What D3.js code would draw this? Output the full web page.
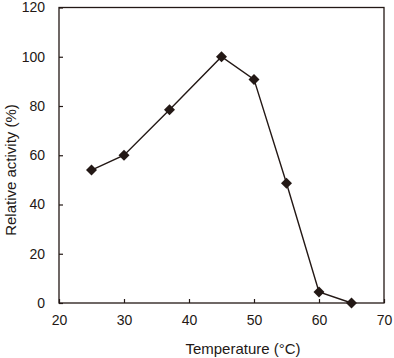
<!DOCTYPE html>
<html><head><meta charset="utf-8">
<script src="https://cdn.jsdelivr.net/npm/d3@7"></script>
<style>body{margin:0;background:#fff}svg{display:block}text{font-family:"Liberation Sans",Arial,sans-serif;fill:#231815}</style>
</head><body><svg id="c" width="394" height="358"></svg>
<script>
const temperatures = [25, 30, 37, 45, 50, 55, 60, 65];
const activity = [54, 60, 78.5, 100, 90.8, 48.6, 4.5, 0];
const xTicks = [20, 30, 40, 50, 60, 70];
const yTicks = [0, 20, 40, 60, 80, 100, 120];
const xTitle = "Temperature (\u00B0C)";
const yTitle = "Relative activity (%)";

const svg = d3.select("#c");
const L = 59, R = 384, T = 7.5, B = 303;
const col = "#231815";
const x = d3.scaleLinear().domain([20, 70]).range([L, R]);
const y = d3.scaleLinear().domain([0, 120]).range([B, T]);

svg.append("rect").attr("x", L).attr("y", T).attr("width", R - L).attr("height", B - T)
  .attr("fill", "none").attr("stroke", col).attr("stroke-width", 1.3);

const xa = svg.append("g").attr("transform", `translate(0,${B})`)
  .call(d3.axisBottom(x).tickValues(xTicks).tickSize(-4).tickPadding(12).tickFormat(d3.format("d")));
const ya = svg.append("g").attr("transform", `translate(${L},0)`)
  .call(d3.axisLeft(y).tickValues(yTicks).tickSize(-4).tickPadding(14).tickFormat(d3.format("d")));
[xa, ya].forEach(a => {
  a.select(".domain").remove();
  a.selectAll("line").attr("stroke", col).attr("stroke-width", 1.2);
  a.selectAll("text").attr("font-size", 14).attr("font-family", "Liberation Sans, Arial, sans-serif").attr("fill", col);
});

const line = d3.line().x((d, i) => x(temperatures[i])).y(d => y(d));
svg.append("path").datum(activity).attr("d", line).attr("fill", "none")
  .attr("stroke", col).attr("stroke-width", 1.4);

svg.selectAll("path.m").data(activity).enter().append("path").attr("class", "m")
  .attr("d", d3.symbol(d3.symbolSquare, 60))
  .attr("transform", (d, i) => `translate(${x(temperatures[i])},${y(d)}) rotate(45)`)
  .attr("fill", col);

svg.append("text").attr("x", 243).attr("y", 354).attr("text-anchor", "middle")
  .attr("font-size", 15).text(xTitle);
svg.append("text").attr("transform", "translate(16,170) rotate(-90)").attr("text-anchor", "middle")
  .attr("font-size", 15).text(yTitle);
</script></body></html>
